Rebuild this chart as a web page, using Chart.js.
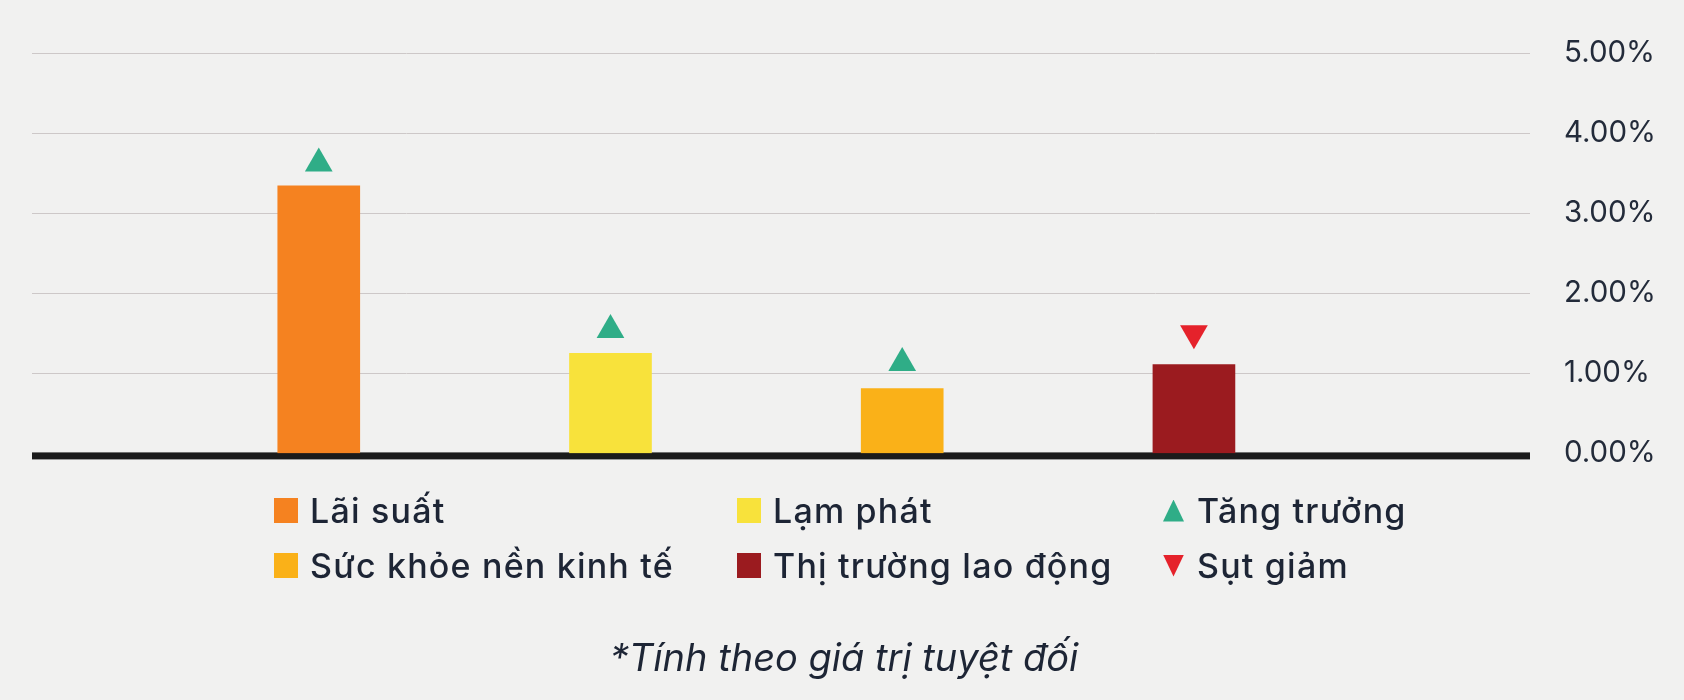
<!DOCTYPE html>
<html>
<head>
<meta charset="utf-8">
<script src="https://cdn.jsdelivr.net/npm/chart.js@4.4.1/dist/chart.umd.min.js"></script>
<style>
  html, body { margin: 0; padding: 0; background: #f1f1f0; }
  #wrap { position: relative; width: 1684px; height: 700px; overflow: hidden; }
  #wrap canvas { position: absolute; left: 0; top: 0; }
  #legend {
    position: absolute; left: 274px; top: 483px;
    display: grid; grid-template-columns: 463px 426px auto; grid-auto-rows: 55px;
    font-family: Inter, "Noto Sans", sans-serif; font-size: 34px; font-weight: 500;
    letter-spacing: 1.2px; color: #1d2535;
  }
  #legend .item { display: flex; align-items: center; white-space: nowrap; }
  #legend .box { width: 24px; height: 25px; margin-right: 12px; flex: none; }
  #legend .tri { width: 21px; height: 22px; margin-right: 13px; flex: none; }
</style>
</head>
<body>
<div id="wrap">
  <canvas id="myChart" width="1684" height="700"></canvas>
  <div id="legend"></div>
</div>
<script>
const categories = ['Lãi suất', 'Lạm phát', 'Sức khỏe nền kinh tế', 'Thị trường lao động'];
const barValues = [3.34, 1.25, 0.81, 1.11];
const barColors = ['#F58220', '#F8E23B', '#FAB118', '#9B1B1F'];

const upLabel = 'Tăng trưởng';
const upValues = [3.62, 1.54, 1.13, null];
const downLabel = 'Sụt giảm';
const downValues = [null, null, null, 1.50];

const yTicks = [0, 1, 2, 3, 4, 5];
const footnote = '*Tính theo giá trị tuyệt đối';

const toPoints = (arr) => arr.map((v, i) => ({ x: i, y: v })).filter(p => p.y !== null);

const datasets = categories.map((c, i) => ({
    type: 'bar',
    label: c,
    data: [{ x: i, y: barValues[i] }],
    backgroundColor: barColors[i],
    barThickness: 82,
    grouped: false
}));
datasets.push({
    type: 'scatter',
    label: upLabel,
    data: toPoints(upValues),
    backgroundColor: '#2FAD87',
    borderWidth: 0,
    pointStyle: 'triangle',
    pointRadius: 16
});
datasets.push({
    type: 'scatter',
    label: downLabel,
    data: toPoints(downValues),
    backgroundColor: '#E5222B',
    borderWidth: 0,
    pointStyle: 'triangle',
    rotation: 180,
    pointRadius: 16
});

// thick black zero line under the bars
const baseline = {
    id: 'baseline',
    beforeDatasetsDraw(chart) {
        const { ctx, chartArea, scales } = chart;
        const y0 = scales.y.getPixelForValue(0);
        ctx.save();
        ctx.fillStyle = '#1b1b1b';
        ctx.fillRect(chartArea.left, y0 - 1, chartArea.right - chartArea.left, 7);
        ctx.restore();
    }
};

const chart = new Chart(document.getElementById('myChart'), {
    data: { datasets: datasets },
    plugins: [baseline],
    options: {
        responsive: false,
        animation: false,
        layout: { padding: { left: 32, top: 53, right: 28, bottom: 0 } },
        scales: {
            x: {
                type: 'linear',
                display: false,
                offset: false,
                min: -0.983,
                max: 4.152
            },
            y: {
                position: 'right',
                min: yTicks[0],
                max: yTicks[yTicks.length - 1],
                afterFit: (scale) => { scale.width = 126; },
                afterBuildTicks: (scale) => { scale.ticks = yTicks.map(v => ({ value: v })); },
                border: { display: false },
                grid: {
                    drawTicks: false,
                    color: (c) => c.tick && c.tick.value === 0 ? 'rgba(0,0,0,0)' : '#cdc8c8',
                    lineWidth: 1
                },
                ticks: {
                    padding: 34,
                    crossAlign: 'near',
                    color: '#232b3a',
                    font: { family: 'Inter', size: 29.5 },
                    callback: (v) => Number(v).toFixed(2) + '%'
                }
            }
        },
        plugins: {
            legend: { display: false },
            tooltip: { enabled: false },
            title: {
                display: true,
                position: 'bottom',
                text: footnote,
                color: '#1d2535',
                font: { family: 'Inter', size: 38, style: 'italic', weight: 'normal' },
                padding: { top: 183, bottom: 18 }
            }
        }
    }
});

// html legend in a 3-column grid, same order as the picture
const legendOrder = [0, 1, 4, 2, 3, 5];
const legendEl = document.getElementById('legend');
legendOrder.forEach((idx) => {
    const ds = chart.data.datasets[idx];
    const item = document.createElement('div');
    item.className = 'item';
    const mark = document.createElement('span');
    if (ds.type === 'bar') {
        mark.className = 'box';
    } else {
        mark.className = 'tri';
        mark.style.clipPath = ds.rotation === 180
            ? 'polygon(0 0, 100% 0, 50% 100%)'
            : 'polygon(50% 0, 100% 100%, 0 100%)';
    }
    mark.style.background = ds.backgroundColor;
    const txt = document.createElement('span');
    txt.textContent = ds.label;
    item.appendChild(mark);
    item.appendChild(txt);
    legendEl.appendChild(item);
});
</script>
</body>
</html>
